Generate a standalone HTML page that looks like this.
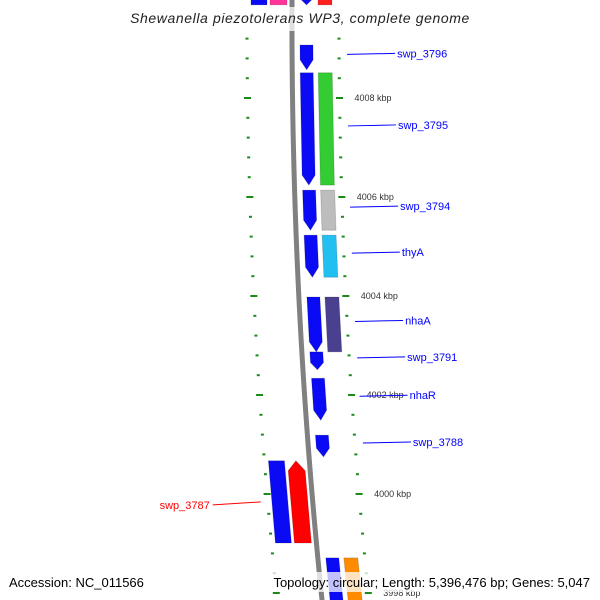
<!DOCTYPE html>
<html><head><meta charset="utf-8"><style>
html,body{margin:0;padding:0;background:#fff;}
svg{display:block;font-family:"Liberation Sans","DejaVu Sans",sans-serif;}
</style></head><body>
<svg id="map" width="600" height="600" viewBox="0 0 600 600"></svg>
<script>
// ---- data (kbp) ----
const fwdGeneNames = ["top-gene","swp_3796","swp_3795","swp_3794","thyA","nhaA","swp_3791","nhaR","swp_3788","bottom-gene"];
const fwdGeneStarts = [4010.2,4009.07,4008.51,4006.14,4005.23,4003.98,4002.87,4002.34,4001.19,3998.71];
const fwdGeneEnds   = [4009.88,4008.57,4006.24,4005.33,4004.38,4002.87,4002.51,4001.49,4000.75,3997.6];
const fwdCogColors  = ["#ff2020",null,"#33cc33","#bdbdbd","#22c0f0","#4a4090",null,null,null,"#ff8c00"];
const fwdLabeled    = [false,true,true,true,true,true,true,true,true,false];
const revGeneNames  = ["top-rev","swp_3787"];
const revGeneStarts = [4010.2,4000.67];
const revGeneEnds   = [4009.88,3999.01];
const revCogColors  = ["#ff3399","#ff0000"];
const revLabeled    = [false,true];
const majorTicks = [4008,4006,4004,4002,4000,3998];
const tickLabels = ["4008 kbp","4006 kbp","4004 kbp","4002 kbp","4000 kbp","3998 kbp"];

// ---- scales ----
const NS="http://www.w3.org/2000/svg";
const svg=document.getElementById('map');
function yOf(k){return 98+(4008-k)*49.5;}
function bx(y){return 292-0.0033*y+0.0000889*y*y;}
function mk(t,a,p){const e=document.createElementNS(NS,t);for(const k in a)e.setAttribute(k,a[k]);(p||svg).appendChild(e);return e;}

// backbone
let d="";for(let y=-5;y<=605;y+=5){d+=(y===-5?"M":"L")+bx(y).toFixed(2)+","+y;}
const bb=mk('path',{d:d,stroke:'#808080','stroke-width':5,fill:'none'});



// ticks
for(let k=4010.4;k>=3997.4;k-=0.4){
  const kk=Math.round(k*10)/10;const y=yOf(kk);
  const major=Math.abs(kk/2-Math.round(kk/2))<0.01;
  const w=major?7:3;
  const r=mk('rect',{x:bx(y)+47-w/2,y:y-1,width:w,height:2,fill:'#1a8a1a'});
  
  
  const l=mk('rect',{x:bx(y)-45-w/2,y:y-1,width:w,height:2,fill:'#1a8a1a'});
  
  
}
majorTicks.forEach((k,i)=>{
  const y=yOf(k);
  const t=mk('text',{x:bx(y)+62,y:y+3,'font-size':9,fill:'#333'});
  t.textContent=tickLabels[i];
  
  
});

function gene(y1,y2,o1,o2,color,dir,name){
  // dir: 1 tip at bottom, -1 tip at top, 0 none
  const tip=Math.min(10,(y2-y1)*0.4);
  let pts;
  const L=(y,o)=>(bx(y)+o).toFixed(1)+","+y.toFixed(1);
  const m=(o1+o2)/2;
  if(dir===1) pts=[L(y1,o1),L(y1,o2),L(y2-tip,o2),L(y2,m),L(y2-tip,o1)];
  else if(dir===-1) pts=[L(y1+tip,o1),L(y1,m),L(y1+tip,o2),L(y2,o2),L(y2,o1)];
  else pts=[L(y1,o1),L(y1,o2),L(y2,o2),L(y2,o1)];
  const p=mk('polygon',{points:pts.join(' '),fill:color,stroke:'rgba(0,0,0,0.15)','stroke-width':1});
  
  
}
fwdGeneNames.forEach((n,i)=>{
  const y1=yOf(fwdGeneStarts[i]),y2=yOf(fwdGeneEnds[i]);
  gene(y1,y2,8,21,'#0a0af5',1,'gene-'+n);
  if(fwdCogColors[i]) gene(y1,y2,26,40,fwdCogColors[i],0,'cog-'+n);
  if(fwdLabeled[i]){
    const ym=(y1+y2)/2-4;const x0=bx(ym)+55;
    const ln=mk('line',{x1:x0,y1:ym+1,x2:x0+48,y2:ym,stroke:'#0000ff','stroke-width':1});
    
    
    const t=mk('text',{x:x0+50,y:ym+4,'font-size':11,fill:'#0000ff'});
    t.textContent=n;
    
    
  }
});
revGeneNames.forEach((n,i)=>{
  const y1=yOf(revGeneStarts[i]),y2=yOf(revGeneEnds[i]);
  gene(y1,y2,-41,-25,'#0a0af5',0,'gene-'+n);
  gene(y1,y2,-22,-5,revCogColors[i],-1,'cog-'+n);
  if(revLabeled[i]){
    const ym=(y1+y2)/2;const x1=bx(ym)-52;
    const ln=mk('line',{x1:x1-48,y1:ym+3,x2:x1,y2:ym,stroke:'#ff0000','stroke-width':1});
    
    
    const t=mk('text',{x:x1-51,y:ym+7,'font-size':11,fill:'#ff0000','text-anchor':'end'});
    t.textContent=n;
    
    
  }
});

// title & footer
const tb=mk('rect',{x:120,y:7,width:360,height:24,fill:'rgba(255,255,255,0.75)'});


const title=mk('text',{x:300,y:23,'font-size':14,'font-style':'italic','text-anchor':'middle',fill:'#222','letter-spacing':'0.6'});
title.textContent="Shewanella piezotolerans WP3, complete genome";


const fb=mk('rect',{x:255,y:572,width:340,height:20,fill:'rgba(255,255,255,0.75)'});


const acc=mk('text',{x:9,y:587,'font-size':13,fill:'#000'});
acc.textContent="Accession: NC_011566";


const topo=mk('text',{x:590,y:587,'font-size':13,fill:'#000','text-anchor':'end'});
topo.textContent="Topology: circular; Length: 5,396,476 bp; Genes: 5,047";


</script>
</body></html>
